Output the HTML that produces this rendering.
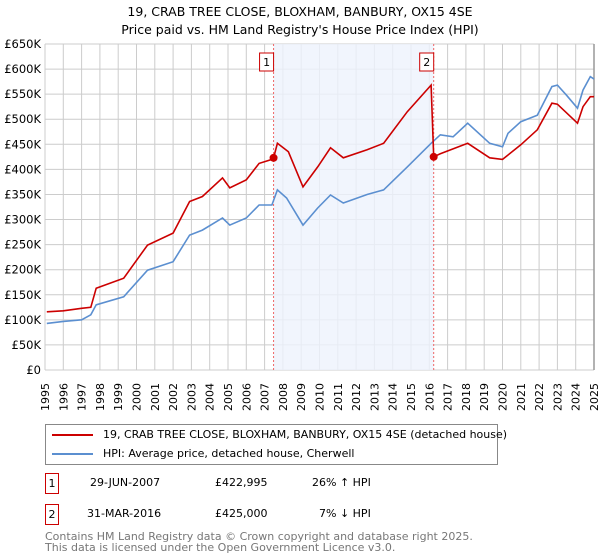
<!DOCTYPE html>
<html><head><meta charset="utf-8"><style>
body{margin:0;background:#fff;font-family:"Liberation Sans","DejaVu Sans",sans-serif;}
#wrap{position:relative;width:600px;height:560px;overflow:hidden}
</style></head><body>
<div id="wrap">
<svg id="chart" width="600" height="560" font-family="DejaVu Sans, Liberation Sans, sans-serif">
<text x="300" y="16" text-anchor="middle" font-size="12.5" fill="#000">19, CRAB TREE CLOSE, BLOXHAM, BANBURY, OX15 4SE</text>
<text x="300" y="34" text-anchor="middle" font-size="12.5" fill="#000">Price paid vs. HM Land Registry's House Price Index (HPI)</text>
<g id="grid"></g><g id="shade"></g><g id="axes"></g><g id="series"></g><g id="marks"></g>
</svg>
<div style="position:absolute;left:45px;top:424px;width:451px;height:39px;border:1px solid #888;font-family:'DejaVu Sans','Liberation Sans',sans-serif;font-size:11px;">
 <div style="position:absolute;left:6px;top:3px;white-space:nowrap"><span style="display:inline-block;width:41px;height:2px;background:#cc0000;vertical-align:middle;margin-right:10px"></span>19, CRAB TREE CLOSE, BLOXHAM, BANBURY, OX15 4SE (detached house)</div>
 <div style="position:absolute;left:6px;top:22px;white-space:nowrap"><span style="display:inline-block;width:41px;height:2px;background:#5b8fd0;vertical-align:middle;margin-right:10px"></span>HPI: Average price, detached house, Cherwell</div>
</div>
<div style="font-family:'DejaVu Sans','Liberation Sans',sans-serif;font-size:11px;">
 <div style="position:absolute;left:45px;top:473px;width:12px;height:19px;border:1px solid #c00;text-align:center;line-height:19px">1</div>
 <div style="position:absolute;left:90px;top:476px">29-JUN-2007</div>
 <div style="position:absolute;left:215px;top:476px">£422,995</div>
 <div style="position:absolute;left:312px;top:476px">26% ↑ HPI</div>
 <div style="position:absolute;left:45px;top:504px;width:12px;height:19px;border:1px solid #c00;text-align:center;line-height:19px">2</div>
 <div style="position:absolute;left:87px;top:507px">31-MAR-2016</div>
 <div style="position:absolute;left:215px;top:507px">£425,000</div>
 <div style="position:absolute;left:319px;top:507px">7% ↓ HPI</div>
 <div style="position:absolute;left:45px;top:531px;color:#777;line-height:11px">Contains HM Land Registry data © Crown copyright and database right 2025.<br>This data is licensed under the Open Government Licence v3.0.</div>
</div>
</div>
<script>
const hpiYears=[1995.1,1996,1997,1997.5,1997.8,1999.3,2000.6,2002,2002.9,2003.6,2004.7,2005.1,2006,2006.7,2007.4,2007.7,2008.2,2009.1,2009.9,2010.6,2011.3,2012.6,2013.5,2014.8,2016.1,2016.6,2017.3,2018.1,2019.3,2020,2020.3,2021,2021.9,2022.7,2023,2023.5,2024.1,2024.4,2024.8,2025];
const hpiValues=[93,97,100,110,130,146,199,216,269,279,303,289,303,329,329,359,343,289,323,349,333,350,359,405,452,469,465,492,452,445,472,495,508,565,568,548,522,558,585,580];
const priceYears=[1995.1,1996,1997,1997.5,1997.8,1999.3,2000.6,2002,2002.9,2003.6,2004.7,2005.1,2006,2006.7,2007.4,2007.49,2007.7,2008.3,2009.1,2009.9,2010.6,2011.3,2012.6,2013.5,2014.8,2016.1,2016.24,2016.6,2018.1,2019.3,2020,2021,2021.9,2022.7,2023,2024.1,2024.4,2024.8,2025];
const priceValues=[116,118,123,125,163,183,249,273,336,346,383,363,379,412,420,423,452,435,365,405,443,423,439,452,515,568,425,431,452,423,420,449,479,532,530,492,525,545,545];
const saleYears=[2007.49,2016.24];
const saleValues=[423,425];
const saleLabels=["1","2"];
const yTicks=[0,50,100,150,200,250,300,350,400,450,500,550,600,650];
const yTickLabels=["£0","£50K","£100K","£150K","£200K","£250K","£300K","£350K","£400K","£450K","£500K","£550K","£600K","£650K"];
const xTicks=[1995,1996,1997,1998,1999,2000,2001,2002,2003,2004,2005,2006,2007,2008,2009,2010,2011,2012,2013,2014,2015,2016,2017,2018,2019,2020,2021,2022,2023,2024,2025];
const X0=45,X1=594,Y0=370,Y1=44;
const xs=v=>X0+(v-1995)/30*(X1-X0);
const ys=v=>Y0-v/650*(Y0-Y1);
const NS="http://www.w3.org/2000/svg";
function mk(parent,tag,attrs){const e=document.createElementNS(NS,tag);for(const k in attrs)e.setAttribute(k,attrs[k]);document.getElementById(parent).appendChild(e);return e;}
let sh=mk('shade','rect',{x:xs(saleYears[0]),y:Y1,width:xs(saleYears[1])-xs(saleYears[0]),height:Y0-Y1,fill:'#eef3fd',opacity:0.8});


xTicks.forEach((t,i)=>{
 const l=mk('grid','line',{x1:xs(t),x2:xs(t),y1:Y1,y2:Y0,stroke:'#cccccc','stroke-width':1});
 
 
 const x=xs(t)+4;
 const tx=mk('axes','text',{x:x,y:383,'text-anchor':'end','font-size':11,fill:'#000',transform:'rotate(-90 '+x+' 383)'});
 tx.textContent=t;
 
 
});
yTicks.forEach((t,i)=>{
 const l=mk('grid','line',{x1:X0,x2:X1,y1:ys(t),y2:ys(t),stroke:'#cccccc','stroke-width':1});
 
 
 const tx=mk('axes','text',{x:41,y:ys(t)+4,'text-anchor':'end','font-size':11.5,fill:'#000'});
 tx.textContent=yTickLabels[i];
 
 
});
let rl=mk('axes','line',{x1:X1,x2:X1,y1:Y1,y2:Y0,stroke:'#999','stroke-width':1.5});


saleYears.forEach((s,i)=>{
 const l=mk('shade','line',{x1:xs(s),x2:xs(s),y1:Y1,y2:Y0,stroke:'#e66','stroke-width':1,'stroke-dasharray':'2,2'});
 
 
 const b=mk('marks','rect',{x:xs(s)-14,y:53,width:14,height:18,fill:'#fff',stroke:'#c00','stroke-width':1});
 
 
 const t=mk('marks','text',{x:xs(s)-7,y:66,'text-anchor':'middle','font-size':11,fill:'#000'});
 t.textContent=saleLabels[i];
 
 
});
function path(xa,va){return xa.map((x,i)=>(i?'L':'M')+xs(x).toFixed(1)+','+ys(va[i]).toFixed(1)).join('');}
let hp=mk('series','path',{d:path(hpiYears,hpiValues),fill:'none',stroke:'#5b8fd0','stroke-width':1.6});


let pp=mk('series','path',{d:path(priceYears,priceValues),fill:'none',stroke:'#cc0000','stroke-width':1.6});


saleYears.forEach((s,i)=>{
 const c=mk('marks','circle',{cx:xs(s),cy:ys(saleValues[i]),r:4,fill:'#cc0000'});
 
 
});
</script>
</body></html>
